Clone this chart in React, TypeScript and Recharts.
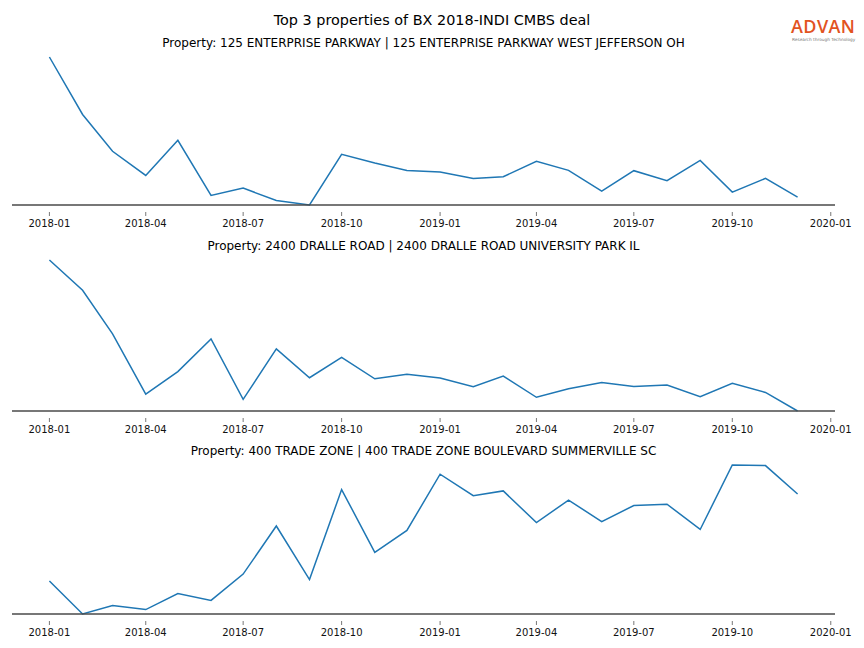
import React from "react";
import { LineChart, Line, XAxis, YAxis } from "recharts";

// monthly observations, Jan 2018 – Dec 2019
const months = [
  "2018-01", "2018-02", "2018-03", "2018-04", "2018-05", "2018-06",
  "2018-07", "2018-08", "2018-09", "2018-10", "2018-11", "2018-12",
  "2019-01", "2019-02", "2019-03", "2019-04", "2019-05", "2019-06",
  "2019-07", "2019-08", "2019-09", "2019-10", "2019-11", "2019-12",
];

const enterpriseParkway = [
  148, 90.7, 54, 30, 65, 10, 17.3, 5, 0.5, 51, 42.3, 35,
  33.3, 27, 28.7, 44, 35, 14.3, 34.7, 24.7, 45, 13.3, 27, 8.3,
];

const dralleRoad = [
  148.7, 119.3, 77, 18.3, 40.3, 72, 13.3, 62.3, 34.3, 54, 33.3, 37.7,
  34, 25.7, 36, 15.3, 23.7, 29.7, 25.7, 27.3, 16, 29, 20, 2,
];

const tradeZone = [
  34, 1.7, 10, 6, 21.7, 15, 40.7, 87.7, 35.3, 123.3, 62, 83.3,
  138.3, 117.3, 122, 91, 113, 92, 107.7, 109, 84.3, 147.3, 146.7, 119,
];

const tickMonths = [
  "2018-01", "2018-04", "2018-07", "2018-10", "2019-01",
  "2019-04", "2019-07", "2019-10", "2020-01",
];

const mainTitle = "Top 3 properties of BX 2018-INDI CMBS deal";
const propertyTitles = [
  "Property: 125 ENTERPRISE PARKWAY | 125 ENTERPRISE PARKWAY WEST JEFFERSON OH",
  "Property: 2400 DRALLE ROAD | 2400 DRALLE ROAD UNIVERSITY PARK IL",
  "Property: 400 TRADE ZONE | 400 TRADE ZONE BOULEVARD SUMMERVILLE SC",
];

const FONT = "'DejaVu Sans', sans-serif";
const LINE_BLUE = "#1f77b4";
const SPINE = "#4a4a4a";

const toTime = (m: string) => {
  const [y, mo] = m.split("-").map(Number);
  return Date.UTC(y, mo - 1, 1);
};

const fmtMonth = (t: number) => {
  const d = new Date(t);
  return `${d.getUTCFullYear()}-${String(d.getUTCMonth() + 1).padStart(2, "0")}`;
};

const times = months.map(toTime);
const pad = (times[times.length - 1] - times[0]) * 0.05;
const xDomain: [number, number] = [times[0] - pad, times[times.length - 1] + pad];
const xTicks = tickMonths.map(toTime);

const MonthTick = (props: any) => {
  const { x, y, payload } = props;
  return (
    <g>
      <line x1={x} x2={x} y1={y + 7} y2={y + 11} stroke="#555" strokeWidth={0.8} />
      <text x={x} y={y + 21.7} textAnchor="middle" fontSize={10} fontFamily={FONT} fill="#111">
        {fmtMonth(payload.value)}
      </text>
    </g>
  );
};

interface PanelProps {
  values: number[];
  plotTop: number;
  plotBottom: number;
}

function Panel({ values, plotTop, plotBottom }: PanelProps) {
  const data = times.map((t, i) => ({ t, v: values[i] }));
  const h = plotBottom - plotTop + 5 + 30;
  return (
    <div style={{ position: "absolute", left: 0, top: plotTop - 5 }}>
      <LineChart width={864} height={h} data={data} margin={{ top: 5, right: 29, bottom: 0, left: 12 }}>
        <XAxis
          xAxisId="b"
          dataKey="t"
          type="number"
          domain={xDomain}
          allowDataOverflow
          ticks={xTicks}
          interval={0}
          tick={<MonthTick />}
          tickLine={false}
          tickSize={0}
          tickMargin={0}
          height={30}
          axisLine={{ stroke: SPINE, strokeWidth: 1.6 }}
        />
        <XAxis
          xAxisId="top"
          orientation="top"
          dataKey="t"
          type="number"
          domain={xDomain}
          allowDataOverflow
          tick={false}
          tickLine={false}
          height={0}
          axisLine={{ stroke: SPINE, strokeWidth: 1.6 }}
        />
        <YAxis hide domain={["dataMin", "dataMax"]} />
        <Line
          xAxisId="b"
          type="linear"
          dataKey="v"
          stroke={LINE_BLUE}
          strokeWidth={1.5}
          dot={false}
          isAnimationActive={false}
        />
      </LineChart>
    </div>
  );
}

const panels = [
  { values: enterpriseParkway, top: 57, bottom: 205 },
  { values: dralleRoad, top: 260, bottom: 411 },
  { values: tradeZone, top: 465, bottom: 614 },
];

export default function App() {
  return (
    <div
      style={{
        position: "absolute",
        left: 0,
        top: 0,
        width: 864,
        height: 648,
        background: "#fff",
        fontFamily: FONT,
        overflow: "hidden",
      }}
    >
      <div
        style={{
          position: "absolute",
          left: 0,
          width: 864,
          top: 12,
          fontSize: 14.4,
          lineHeight: "16px",
          textAlign: "center",
          color: "#000",
        }}
      >
        {mainTitle}
      </div>

      {/* logo */}
      <div
        style={{
          position: "absolute",
          left: 791,
          top: 17,
          fontFamily: "'Open Sans', sans-serif",
          fontWeight: 600,
          fontSize: 18,
          lineHeight: "18px",
          letterSpacing: 0.4,
          color: "#e2531f",
          whiteSpace: "nowrap",
        }}
      >
        ADVAN
      </div>
      <div
        style={{
          position: "absolute",
          left: 792,
          top: 36.5,
          fontSize: 4.3,
          lineHeight: "5px",
          color: "#777",
          whiteSpace: "nowrap",
        }}
      >
        Research through Technology
      </div>

      {panels.map((p, i) => (
        <React.Fragment key={i}>
          <div
            style={{
              position: "absolute",
              left: 12,
              width: 823,
              top: p.top - 21,
              fontSize: 12,
              lineHeight: "14px",
              textAlign: "center",
              color: "#000",
            }}
          >
            {propertyTitles[i]}
          </div>
          <Panel values={p.values} plotTop={p.top} plotBottom={p.bottom} />
        </React.Fragment>
      ))}
    </div>
  );
}
